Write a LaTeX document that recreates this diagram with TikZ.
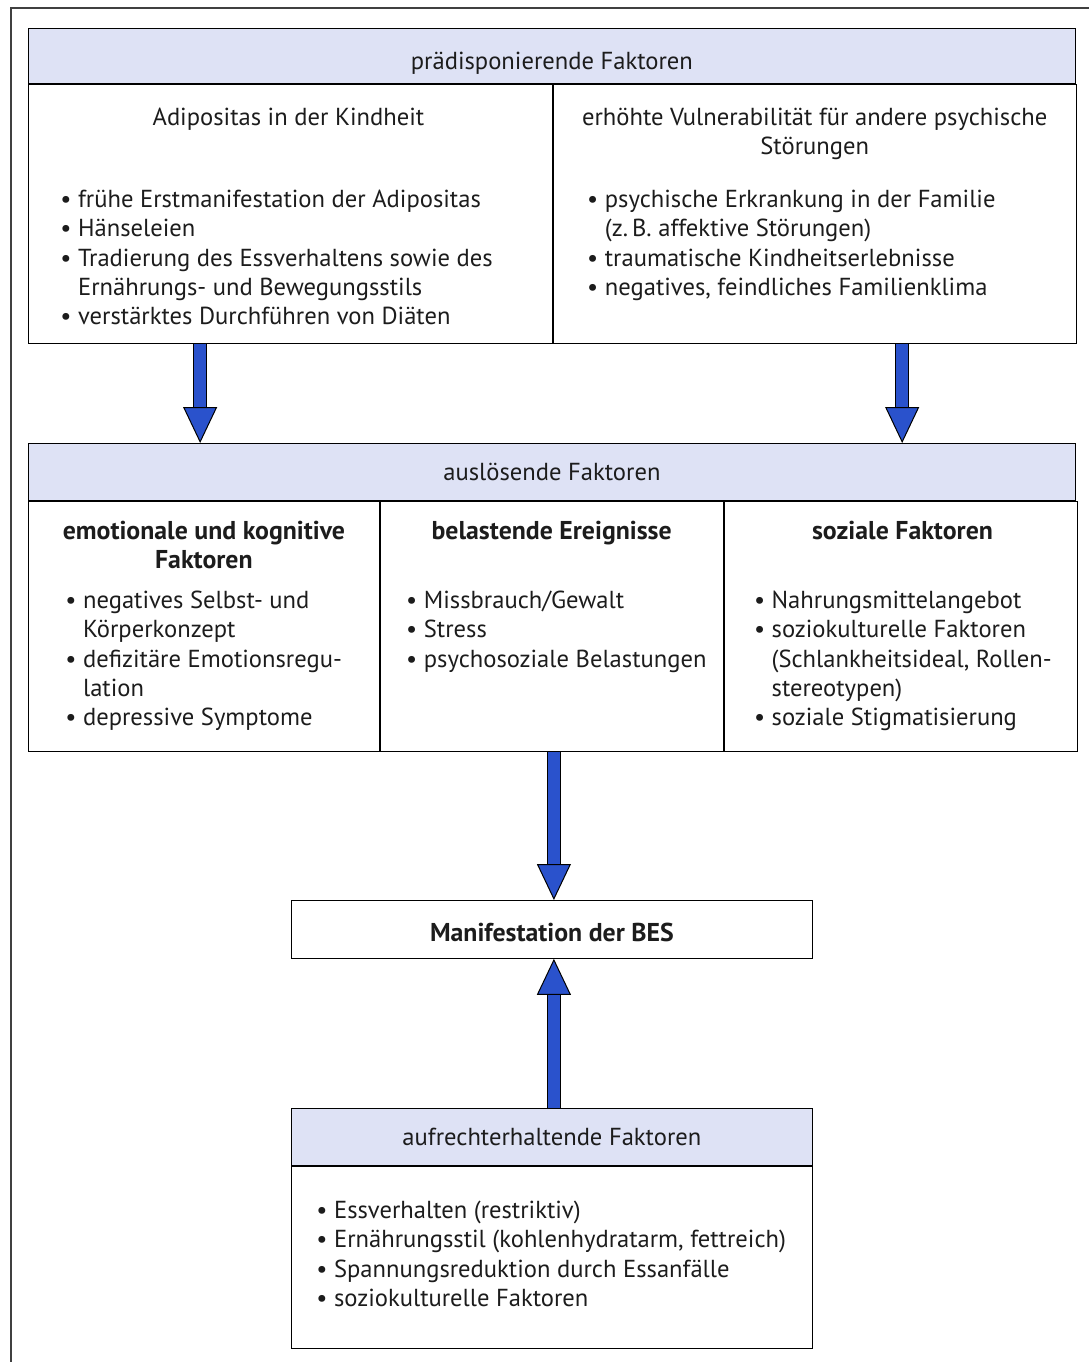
\documentclass[tikz,border=0pt]{standalone}
\usepackage{fontspec}
\setmainfont{PT Sans}
\usetikzlibrary{arrows.meta, positioning, calc}
\definecolor{headblue}{RGB}{222,226,245}
\definecolor{arrowblue}{RGB}{42,82,204}
\definecolor{inkgray}{RGB}{28,28,28}
\newcommand{\bul}{\textbullet\ }
\newcommand{\ind}{\phantom{\textbullet\ }}
\newcommand{\bodyfont}{\fontsize{12.3}{14.6}\selectfont}
\newcommand{\titlefont}{\fontsize{12.9}{14.6}\selectfont\bfseries}
\tikzset{
    head_bar/.style={rectangle, draw, fill=headblue, anchor=north west, inner sep=0pt, text=inkgray},
    cell_box/.style={rectangle, draw, anchor=north west, inner sep=0pt},
    col_title/.style={anchor=north, inner sep=0pt, align=center, text=inkgray, font=\titlefont},
    bullet_list/.style={anchor=north west, inner sep=0pt, align=left, text=inkgray},
    big_arrow/.style={draw=black, line width=0.5pt, double=arrowblue, double distance=6pt, -{Triangle[length=18pt, width=17pt, fill=arrowblue]}}
}

\begin{document}
\begin{tikzpicture}[x=0.5pt, y=-0.5pt, font=\bodyfont]
    \useasboundingbox (0,0) rectangle (1089,1362);
    % outer frame
    \draw[line width=0.9pt, black!75] (11,1362) -- (11,8) -- (1089,8);

    % praedisponierende Faktoren
    \node (praeHead) [head_bar, minimum width=523.5pt, minimum height=27.5pt, text height=16pt, text depth=2.5pt] at (28,28) {prädisponierende Faktoren};
    \node (praeL) [cell_box, minimum width=262pt, minimum height=129.5pt] at (praeHead.south west) {};
    \node (praeR) [cell_box, minimum width=261.5pt, minimum height=129.5pt] at (praeL.north east) {};
    \node (adipTitle) [col_title, font=\bodyfont] at ($(praeL.north)+(-2,24)$) {Adipositas in der Kindheit};
    \node (vulnTitle) [col_title, font=\bodyfont] at ($(praeR.north)+(0,24)$) {erhöhte Vulnerabilität für andere psychische\\Störungen};
    \node (adipList) [bullet_list] at ($(praeL.north west)+(32,106)$) {\bul frühe Erstmanifestation der Adipositas\\
        \bul Hänseleien\\
        \bul Tradierung des Essverhaltens sowie des\\
        \ind Ernährungs- und Bewegungsstils\\
        \bul verstärktes Durchführen von Diäten};
    \node (vulnList) [bullet_list] at ($(praeR.north west)+(34,106)$) {\bul psychische Erkrankung in der Familie\\
        \ind (z.\,B. affektive Störungen)\\
        \bul traumatische Kindheitserlebnisse\\
        \bul negatives, feindliches Familienklima};

    % ausloesende Faktoren
    \node (auslHead) [head_bar, minimum width=523.5pt, minimum height=28.5pt] at (28,443) {auslösende Faktoren};
    \node (auslL) [cell_box, minimum width=175.5pt, minimum height=125pt] at (auslHead.south west) {};
    \node (auslM) [cell_box, minimum width=171.5pt, minimum height=125pt] at (auslL.north east) {};
    \node (auslR) [cell_box, minimum width=176.5pt, minimum height=125pt] at (auslM.north east) {};
    \node (emoTitle) [col_title] at ($(auslL.north)+(0,20)$) {emotionale und kognitive\\Faktoren};
    \node (belTitle) [col_title] at ($(auslM.north)+(0,20)$) {belastende Ereignisse};
    \node (sozTitle) [col_title] at ($(auslR.north)+(2,20)$) {soziale Faktoren};
    \node (emoList) [bullet_list] at ($(auslL.north west)+(37,90)$) {\bul negatives Selbst- und\\
        \ind Körperkonzept\\
        \bul defizitäre Emotionsregu-\\
        \ind lation\\
        \bul depressive Symptome};
    \node (belList) [bullet_list] at ($(auslM.north west)+(26,90)$) {\bul Missbrauch/Gewalt\\
        \bul Stress\\
        \bul psychosoziale Belastungen};
    \node (sozList) [bullet_list] at ($(auslR.north west)+(30,90)$) {\bul Nahrungsmittelangebot\\
        \bul soziokulturelle Faktoren\\
        \ind (Schlankheitsideal, Rollen-\\
        \ind stereotypen)\\
        \bul soziale Stigmatisierung};

    % Manifestation
    \node (manif) [cell_box, minimum width=260.5pt, minimum height=29pt] at (291,900) {};
    \node (manifText) at ($(manif.center)+(0,3)$) [text=inkgray, font=\titlefont] {Manifestation der BES};

    % aufrechterhaltende Faktoren
    \node (aufHead) [head_bar, minimum width=260.5pt, minimum height=28.5pt] at (291,1108) {aufrechterhaltende Faktoren};
    \node (aufBody) [cell_box, minimum width=260.5pt, minimum height=91pt] at (aufHead.south west) {};
    \node (aufList) [bullet_list] at ($(aufBody.north west)+(25,35)$) {\bul Essverhalten (restriktiv)\\
        \bul Ernährungsstil (kohlenhydratarm, fettreich)\\
        \bul Spannungsreduktion durch Essanfälle\\
        \bul soziokulturelle Faktoren};

    % arrows
    \coordinate (arrL) at ($(praeL.south west)!0.328!(praeL.south east)$);
    \coordinate (arrR) at ($(praeR.south west)!0.667!(praeR.south east)$);
    \draw [big_arrow] (arrL) -- (arrL |- auslHead.north);
    \draw [big_arrow] (arrR) -- (arrR |- auslHead.north);
    \draw [big_arrow] ($(manif.north |- auslM.south)+(2,0)$) -- ($(manif.north)+(2,0)$);
    \draw [big_arrow] ($(aufHead.north)+(2,0)$) -- ($(manif.south)+(2,0)$);
\end{tikzpicture}
\end{document}
